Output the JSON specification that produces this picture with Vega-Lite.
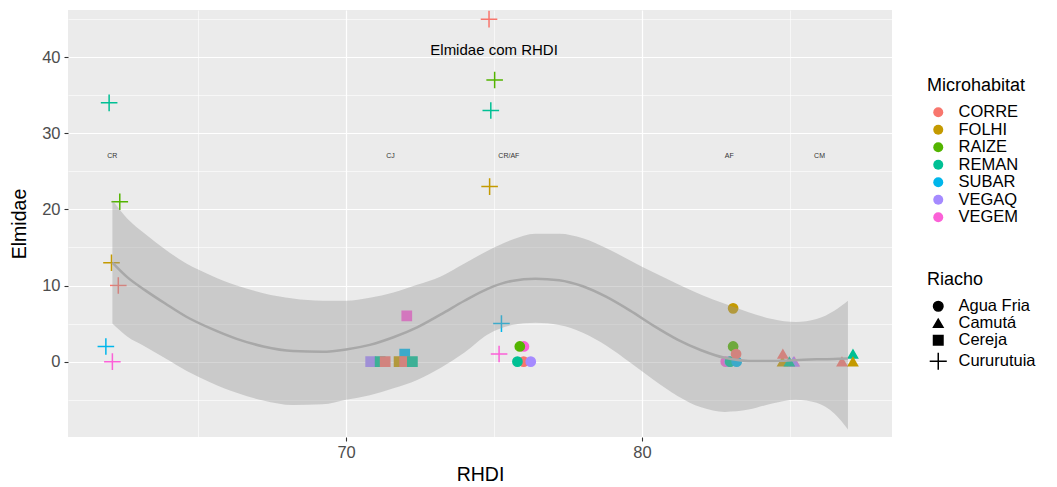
{
  "$schema": "https://vega.github.io/schema/vega-lite/v6.json",
  "autosize": {"type": "none"},
  "width": 824,
  "height": 427,
  "padding": {"left": 68, "top": 10, "right": 165, "bottom": 50},
  "background": "white",
  "config": {
    "font": "Liberation Sans",
    "view": {"fill": "#EBEBEB", "stroke": null},
    "axis": {
      "domain": false,
      "gridColor": "white",
      "gridOpacity": 1,
      "tickColor": "#333333",
      "tickWidth": 1.1,
      "tickSize": 4,
      "labelColor": "#4D4D4D",
      "labelFontSize": 16.5,
      "titleFontSize": 19.5,
      "titleFontWeight": "normal",
      "titleColor": "black"
    }
  },
  "datasets": {
    "pts": [
      {"RHDI": 61.99, "Elmidae": 34, "Microhabitat": "REMAN", "Riacho": "Cururutuia"},
      {"RHDI": 62.35, "Elmidae": 21, "Microhabitat": "RAIZE", "Riacho": "Cururutuia"},
      {"RHDI": 62.07, "Elmidae": 13, "Microhabitat": "FOLHI", "Riacho": "Cururutuia"},
      {"RHDI": 62.3, "Elmidae": 10, "Microhabitat": "CORRE", "Riacho": "Cururutuia"},
      {"RHDI": 61.88, "Elmidae": 2, "Microhabitat": "SUBAR", "Riacho": "Cururutuia"},
      {"RHDI": 62.1, "Elmidae": 0, "Microhabitat": "VEGEM", "Riacho": "Cururutuia"},
      {"RHDI": 74.83, "Elmidae": 45, "Microhabitat": "CORRE", "Riacho": "Cururutuia"},
      {"RHDI": 75.02, "Elmidae": 37, "Microhabitat": "RAIZE", "Riacho": "Cururutuia"},
      {"RHDI": 74.89, "Elmidae": 33, "Microhabitat": "REMAN", "Riacho": "Cururutuia"},
      {"RHDI": 74.85, "Elmidae": 23, "Microhabitat": "FOLHI", "Riacho": "Cururutuia"},
      {"RHDI": 75.25, "Elmidae": 5, "Microhabitat": "SUBAR", "Riacho": "Cururutuia"},
      {"RHDI": 75.17, "Elmidae": 1, "Microhabitat": "VEGEM", "Riacho": "Cururutuia"},
      {"RHDI": 76.01, "Elmidae": 2, "Microhabitat": "VEGEM", "Riacho": "Agua Fria"},
      {"RHDI": 75.87, "Elmidae": 2, "Microhabitat": "RAIZE", "Riacho": "Agua Fria"},
      {"RHDI": 76.0, "Elmidae": 0, "Microhabitat": "CORRE", "Riacho": "Agua Fria"},
      {"RHDI": 75.79, "Elmidae": 0, "Microhabitat": "REMAN", "Riacho": "Agua Fria"},
      {"RHDI": 76.24, "Elmidae": 0, "Microhabitat": "VEGAQ", "Riacho": "Agua Fria"},
      {"RHDI": 72.05, "Elmidae": 6, "Microhabitat": "VEGEM", "Riacho": "Cereja"},
      {"RHDI": 70.83, "Elmidae": 0, "Microhabitat": "VEGAQ", "Riacho": "Cereja"},
      {"RHDI": 71.15, "Elmidae": 0, "Microhabitat": "REMAN", "Riacho": "Cereja"},
      {"RHDI": 71.32, "Elmidae": 0, "Microhabitat": "CORRE", "Riacho": "Cereja"},
      {"RHDI": 71.98, "Elmidae": 1, "Microhabitat": "SUBAR", "Riacho": "Cereja"},
      {"RHDI": 71.79, "Elmidae": 0, "Microhabitat": "FOLHI", "Riacho": "Cereja"},
      {"RHDI": 71.98, "Elmidae": 0, "Microhabitat": "CORRE", "Riacho": "Cereja"},
      {"RHDI": 72.24, "Elmidae": 0, "Microhabitat": "REMAN", "Riacho": "Cereja"},
      {"RHDI": 83.08, "Elmidae": 7, "Microhabitat": "FOLHI", "Riacho": "Agua Fria"},
      {"RHDI": 83.08, "Elmidae": 2, "Microhabitat": "RAIZE", "Riacho": "Agua Fria"},
      {"RHDI": 82.83, "Elmidae": 0, "Microhabitat": "VEGEM", "Riacho": "Agua Fria"},
      {"RHDI": 82.95, "Elmidae": 0, "Microhabitat": "VEGAQ", "Riacho": "Agua Fria"},
      {"RHDI": 82.98, "Elmidae": 0, "Microhabitat": "REMAN", "Riacho": "Agua Fria"},
      {"RHDI": 83.2, "Elmidae": 0, "Microhabitat": "SUBAR", "Riacho": "Agua Fria"},
      {"RHDI": 83.18, "Elmidae": 1, "Microhabitat": "CORRE", "Riacho": "Agua Fria"},
      {"RHDI": 85.15, "Elmidae": 0, "Microhabitat": "VEGEM", "Riacho": "Camutá"},
      {"RHDI": 85.12, "Elmidae": 0, "Microhabitat": "VEGAQ", "Riacho": "Camutá"},
      {"RHDI": 84.75, "Elmidae": 0, "Microhabitat": "FOLHI", "Riacho": "Camutá"},
      {"RHDI": 84.98, "Elmidae": 0, "Microhabitat": "REMAN", "Riacho": "Camutá"},
      {"RHDI": 84.76, "Elmidae": 1, "Microhabitat": "CORRE", "Riacho": "Camutá"},
      {"RHDI": 86.76, "Elmidae": 0, "Microhabitat": "CORRE", "Riacho": "Camutá"},
      {"RHDI": 87.13, "Elmidae": 1, "Microhabitat": "REMAN", "Riacho": "Camutá"},
      {"RHDI": 87.13, "Elmidae": 0, "Microhabitat": "FOLHI", "Riacho": "Camutá"}
    ],
    "smooth": [
      {"RHDI": 62.1, "Elmidae": 13.0, "lo": 5.0, "hi": 21.2},
      {"RHDI": 62.6, "Elmidae": 11.1, "lo": 3.3, "hi": 18.8},
      {"RHDI": 63.2, "Elmidae": 9.4, "lo": 2.0, "hi": 16.8},
      {"RHDI": 63.9, "Elmidae": 7.6, "lo": 0.4, "hi": 14.7},
      {"RHDI": 64.6, "Elmidae": 5.9, "lo": -1.2, "hi": 12.9},
      {"RHDI": 65.4, "Elmidae": 4.4, "lo": -2.7, "hi": 11.4},
      {"RHDI": 66.3, "Elmidae": 3.0, "lo": -4.1, "hi": 10.0},
      {"RHDI": 67.2, "Elmidae": 2.0, "lo": -5.1, "hi": 9.0},
      {"RHDI": 68.2, "Elmidae": 1.4, "lo": -5.7, "hi": 8.3},
      {"RHDI": 69.2, "Elmidae": 1.3, "lo": -5.6, "hi": 8.0},
      {"RHDI": 70.0, "Elmidae": 1.6, "lo": -5.0, "hi": 8.0},
      {"RHDI": 70.8, "Elmidae": 2.2, "lo": -4.4, "hi": 8.4},
      {"RHDI": 71.6, "Elmidae": 3.2, "lo": -3.5, "hi": 9.1},
      {"RHDI": 72.4, "Elmidae": 4.5, "lo": -2.4, "hi": 10.1},
      {"RHDI": 73.2, "Elmidae": 6.2, "lo": -0.8, "hi": 11.2},
      {"RHDI": 74.0, "Elmidae": 8.0, "lo": 1.2, "hi": 12.9},
      {"RHDI": 74.8, "Elmidae": 9.6, "lo": 3.6, "hi": 14.6},
      {"RHDI": 75.6, "Elmidae": 10.6, "lo": 4.8, "hi": 16.0},
      {"RHDI": 76.4, "Elmidae": 10.9, "lo": 5.1, "hi": 16.8},
      {"RHDI": 77.2, "Elmidae": 10.7, "lo": 4.8, "hi": 16.8},
      {"RHDI": 78.0, "Elmidae": 9.9, "lo": 3.8, "hi": 16.2},
      {"RHDI": 78.8, "Elmidae": 8.5, "lo": 2.1, "hi": 14.9},
      {"RHDI": 79.6, "Elmidae": 6.7, "lo": -0.1, "hi": 13.3},
      {"RHDI": 80.4, "Elmidae": 4.7, "lo": -2.4, "hi": 11.7},
      {"RHDI": 81.2, "Elmidae": 2.9, "lo": -4.5, "hi": 10.2},
      {"RHDI": 82.0, "Elmidae": 1.5, "lo": -6.0, "hi": 8.8},
      {"RHDI": 82.8, "Elmidae": 0.5, "lo": -6.6, "hi": 7.6},
      {"RHDI": 83.6, "Elmidae": 0.1, "lo": -6.3, "hi": 6.5},
      {"RHDI": 84.4, "Elmidae": 0.1, "lo": -5.5, "hi": 5.6},
      {"RHDI": 85.2, "Elmidae": 0.2, "lo": -5.0, "hi": 5.2},
      {"RHDI": 85.9, "Elmidae": 0.3, "lo": -5.4, "hi": 5.6},
      {"RHDI": 86.5, "Elmidae": 0.35, "lo": -6.8, "hi": 6.7},
      {"RHDI": 86.96, "Elmidae": 0.4, "lo": -8.9, "hi": 8.0}
    ],
    "labels": [
      {"RHDI": 62.1, "Elmidae": 27, "label": "CR"},
      {"RHDI": 71.5, "Elmidae": 27, "label": "CJ"},
      {"RHDI": 75.5, "Elmidae": 27, "label": "CR/AF"},
      {"RHDI": 82.95, "Elmidae": 27, "label": "AF"},
      {"RHDI": 86.0, "Elmidae": 27, "label": "CM"}
    ],
    "heading": [
      {"RHDI": 75.0, "Elmidae": 41, "label": "Elmidae com RHDI"}
    ]
  },
  "layer": [
    {
      "data": {"name": "pts"},
      "mark": {"type": "point", "filled": true, "opacity": 1, "strokeWidth": 1.5, "size": 85},
      "encoding": {
        "x": {"field": "RHDI", "type": "quantitative", "title": "RHDI",
              "scale": {"domain": [60.6, 88.45], "nice": false, "zero": false},
              "axis": {"values": [65, 70, 75, 80, 85],
                       "labelExpr": "datum.value % 10 === 0 ? datum.label : ''",
                       "tickOpacity": {"condition": {"test": "datum.value % 10 === 0", "value": 1}, "value": 0},
                       "gridWidth": {"condition": {"test": "datum.value % 10 === 0", "value": 1.2}, "value": 0.6},
                       "labelPadding": 3, "titlePadding": 5}},
        "y": {"field": "Elmidae", "type": "quantitative", "title": "Elmidae",
              "scale": {"domain": [-9.9, 46.2], "nice": false, "zero": false},
              "axis": {"values": [-5, 0, 5, 10, 15, 20, 25, 30, 35, 40, 45],
                       "labelExpr": "datum.value % 10 === 0 ? datum.label : ''",
                       "tickOpacity": {"condition": {"test": "datum.value % 10 === 0", "value": 1}, "value": 0},
                       "gridWidth": {"condition": {"test": "datum.value % 10 === 0", "value": 1.2}, "value": 0.6},
                       "labelPadding": 4, "titlePadding": 12}},
        "fill": {"field": "Microhabitat", "type": "nominal",
                 "scale": {"domain": ["CORRE", "FOLHI", "RAIZE", "REMAN", "SUBAR", "VEGAQ", "VEGEM"],
                           "range": ["#F8766D", "#C49A00", "#53B400", "#00C094", "#00B6EB", "#A58AFF", "#FB61D7"]},
                 "legend": {"title": "Microhabitat", "orient": "none", "legendX": 859, "legendY": 67,
                            "padding": 0, "titleFontSize": 18, "titleFontWeight": "normal", "titleColor": "black",
                            "titlePadding": 9, "labelFontSize": 16.5, "labelColor": "black",
                            "symbolType": "circle", "symbolSize": 100, "symbolStrokeWidth": 0,
                            "symbolOffset": 3, "labelOffset": 12, "rowPadding": 0.5}},
        "stroke": {"field": "Microhabitat", "type": "nominal",
                   "scale": {"domain": ["CORRE", "FOLHI", "RAIZE", "REMAN", "SUBAR", "VEGAQ", "VEGEM"],
                             "range": ["#F8766D", "#C49A00", "#53B400", "#00C094", "#00B6EB", "#A58AFF", "#FB61D7"]},
                   "legend": null},
        "shape": {"field": "Riacho", "type": "nominal",
                  "scale": {"domain": ["Agua Fria", "Camutá", "Cereja", "Cururutuia"],
                            "range": ["circle", "triangle-up", "square", "M-1.8,0H1.8M0,-1.8V1.8"]},
                  "legend": {"title": "Riacho", "orient": "none", "legendX": 859, "legendY": 261,
                             "padding": 0, "titleFontSize": 18, "titleFontWeight": "normal", "titleColor": "black",
                             "titlePadding": 9, "labelFontSize": 16.5, "labelColor": "black",
                             "symbolSize": 90, "symbolFillColor": "black", "symbolStrokeColor": "black",
                             "symbolStrokeWidth": 1.5, "symbolOffset": 3, "labelOffset": 12, "rowPadding": 0}}
      }
    },
    {
      "data": {"name": "smooth"},
      "mark": {"type": "area", "fill": "#999999", "opacity": 0.4, "interpolate": "monotone"},
      "encoding": {
        "x": {"field": "RHDI", "type": "quantitative", "title": "RHDI"},
        "y": {"field": "lo", "type": "quantitative", "title": "Elmidae"},
        "y2": {"field": "hi"}
      }
    },
    {
      "data": {"name": "smooth"},
      "mark": {"type": "line", "color": "#A8A8A8", "strokeWidth": 2.5, "interpolate": "monotone"},
      "encoding": {
        "x": {"field": "RHDI", "type": "quantitative", "title": "RHDI"},
        "y": {"field": "Elmidae", "type": "quantitative", "title": "Elmidae"}
      }
    },
    {
      "data": {"name": "labels"},
      "mark": {"type": "text", "fontSize": 7, "color": "#333333"},
      "encoding": {
        "x": {"field": "RHDI", "type": "quantitative", "title": "RHDI"},
        "y": {"field": "Elmidae", "type": "quantitative", "title": "Elmidae"},
        "text": {"field": "label"}
      }
    },
    {
      "data": {"name": "heading"},
      "mark": {"type": "text", "fontSize": 15, "color": "black"},
      "encoding": {
        "x": {"field": "RHDI", "type": "quantitative", "title": "RHDI"},
        "y": {"field": "Elmidae", "type": "quantitative", "title": "Elmidae"},
        "text": {"field": "label"}
      }
    }
  ]
}
